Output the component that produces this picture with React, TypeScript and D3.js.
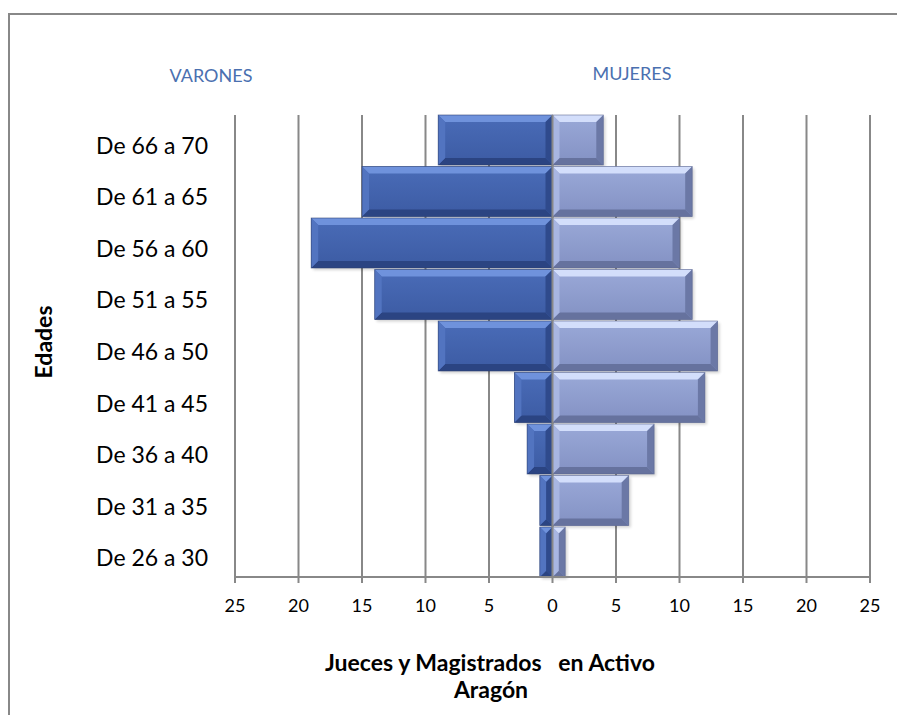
import React from "react";
import * as d3 from "d3";

const categories = [
  "De 66 a 70",
  "De 61 a 65",
  "De 56 a 60",
  "De 51 a 55",
  "De 46 a 50",
  "De 41 a 45",
  "De 36 a 40",
  "De 31 a 35",
  "De 26 a 30",
];
const varones = [9, 15, 19, 14, 9, 3, 2, 1, 1];
const mujeres = [4, 11, 10, 11, 13, 12, 8, 6, 1];
const tickValues = [-25, -20, -15, -10, -5, 0, 5, 10, 15, 20, 25];

const W = 897;
const H = 715;
const FONT = "Lato, 'Open Sans', sans-serif";

type Pal = { base0: string; base1: string; top: string; bottom: string; left: string; right: string; stroke: string };
const palV: Pal = { base0: "#4a6cb8", base1: "#3c5ba3", top: "#6f92dc", bottom: "#2b4482", left: "#5274c0", right: "#2f4a8c", stroke: "#2c3f70" };
const palM: Pal = { base0: "#9aa9d8", base1: "#8391c3", top: "#d3defb", bottom: "#66729e", left: "#a8b6e2", right: "#6b78a6", stroke: "#5c6890" };

function Bar({ x, y, w, h, pal, id }: { x: number; y: number; w: number; h: number; pal: Pal; id: string }) {
  const b = Math.min(7, w / 2, h / 2);
  const p = (pts: number[][]) => pts.map((q) => q.join(",")).join(" ");
  return (
    <g>
      <rect x={x + 2} y={y + 2} width={w} height={h} fill="#000" opacity={0.18} filter="url(#shadow)" />
      <rect x={x} y={y} width={w} height={h} fill={`url(#${id})`} />
      <polygon points={p([[x, y], [x + w, y], [x + w - b, y + b], [x + b, y + b]])} fill={pal.top} />
      <polygon points={p([[x, y + h], [x + w, y + h], [x + w - b, y + h - b], [x + b, y + h - b]])} fill={pal.bottom} />
      <polygon points={p([[x, y], [x + b, y + b], [x + b, y + h - b], [x, y + h]])} fill={pal.left} />
      <polygon points={p([[x + w, y], [x + w - b, y + b], [x + w - b, y + h - b], [x + w, y + h]])} fill={pal.right} />
      <rect x={x} y={y} width={w} height={h} fill="none" stroke={pal.stroke} strokeWidth={0.8} opacity={0.7} />
    </g>
  );
}

export default function App() {
  const x = d3.scaleLinear().domain([-25, 25]).range([235, 870]);
  const y = d3.scaleBand<string>().domain(categories).range([115, 577]).paddingInner(0.03).paddingOuter(0);
  const top = 115;
  const axisY = 577;

  return (
    <svg width={W} height={H} style={{ display: "block", position: "absolute", left: 0, top: 0 }} fontFamily={FONT}>
      <defs>
        <linearGradient id="gV" x1="0" y1="0" x2="0" y2="1">
          <stop offset="0" stopColor={palV.base0} />
          <stop offset="1" stopColor={palV.base1} />
        </linearGradient>
        <linearGradient id="gM" x1="0" y1="0" x2="0" y2="1">
          <stop offset="0" stopColor={palM.base0} />
          <stop offset="1" stopColor={palM.base1} />
        </linearGradient>
        <filter id="shadow" x="-10%" y="-10%" width="120%" height="130%">
          <feGaussianBlur stdDeviation="1.5" />
        </filter>
      </defs>
      <rect x={0} y={0} width={W} height={H} fill="#fff" />
      <rect x={9} y={14} width={W + 20} height={H + 20} fill="none" stroke="#888" strokeWidth={2} />

      {tickValues.map((t) => (
        <line key={"g" + t} x1={x(t)} x2={x(t)} y1={top} y2={axisY} stroke="#888" strokeWidth={2} />
      ))}

      {categories.map((c, i) => {
        const by = y(c)!;
        const bh = y.bandwidth();
        const x0 = x(0);
        const xv = x(-varones[i]);
        const xm = x(mujeres[i]);
        return (
          <g key={c}>
            <Bar x={xv} y={by} w={x0 - xv} h={bh} pal={palV} id="gV" />
            <Bar x={x0} y={by} w={xm - x0} h={bh} pal={palM} id="gM" />
          </g>
        );
      })}

      <line x1={x(0)} x2={x(0)} y1={top} y2={axisY} stroke="#888" strokeWidth={2} />
      <line x1={x(-25)} x2={x(25)} y1={axisY} y2={axisY} stroke="#888" strokeWidth={2} />
      {tickValues.map((t) => (
        <g key={"t" + t}>
          <line x1={x(t)} x2={x(t)} y1={axisY} y2={axisY + 6} stroke="#888" strokeWidth={2} />
          <text x={x(t)} y={612} textAnchor="middle" fontSize={18} fill="#000">
            {Math.abs(t)}
          </text>
        </g>
      ))}

      {categories.map((c) => (
        <text key={"l" + c} x={208} y={y(c)! + y.bandwidth() / 2 + 14} textAnchor="end" fontSize={23} fill="#000">
          {c}
        </text>
      ))}

      <text x={211} y={82} textAnchor="middle" fontSize={18} fill="#4a70b0">VARONES</text>
      <text x={632} y={80} textAnchor="middle" fontSize={18} fill="#4a70b0">MUJERES</text>

      <text transform="translate(52,342) rotate(-90)" textAnchor="middle" fontSize={23} fontWeight="bold" fill="#000">
        Edades
      </text>

      <text x={490} y={671} textAnchor="middle" fontSize={23} fontWeight="bold" fill="#000" style={{ whiteSpace: "pre" }}>
        {"Jueces y Magistrados   en Activo"}
      </text>
      <text x={491} y={698} textAnchor="middle" fontSize={23} fontWeight="bold" fill="#000">
        Aragón
      </text>
    </svg>
  );
}
